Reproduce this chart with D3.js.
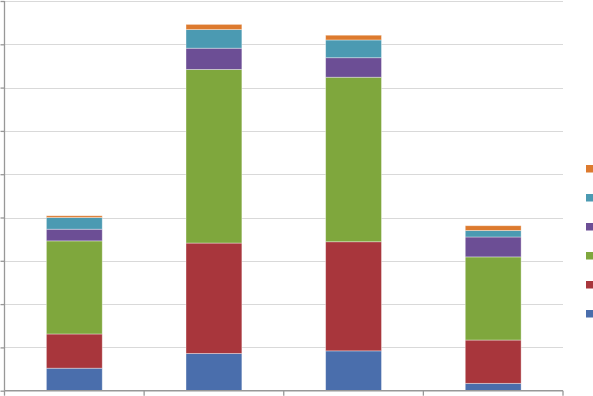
<!DOCTYPE html>
<html>
<head>
    <meta charset="utf-8" />
    <script src="https://d3js.org/d3.v7.min.js"></script>
    <style>
        body { margin: 0; background: #fff; }
        svg { display: block; }
    </style>
</head>
<body>
    <script>
        var categories = ["A", "B", "C", "D"];
        var seriesNames = ["S1", "S2", "S3", "S4", "S5", "S6"];
        var colors = ["#4a6eac", "#a8363c", "#7fa73d", "#6c4e95", "#4b9ab2", "#dd7a2e"];
        // one array per series, one value per category
        var s1 = [5.2, 8.6, 9.2, 1.7];
        var s2 = [7.9, 25.5, 25.2, 10.0];
        var s3 = [21.5, 40.1, 38.0, 19.2];
        var s4 = [2.7, 4.9, 4.5, 4.6];
        var s5 = [2.7, 4.3, 4.1, 1.5];
        var s6 = [0.4, 1.2, 1.1, 1.1];
        var yTicks = [0, 10, 20, 30, 40, 50, 60, 70, 80, 90];

        var width = 593, height = 396;
        // plot edges (note: "top" is reserved on window)
        var plotLeft = 4.5, plotRight = 563, plotTop = 1, plotBottom = 390.7;

        var all = [s1, s2, s3, s4, s5, s6];
        var rows = categories.map(function (c, i) {
            var r = { cat: c };
            seriesNames.forEach(function (s, j) { r[s] = all[j][i]; });
            return r;
        });

        var svg = d3.select("body").append("svg")
            .attr("width", width)
            .attr("height", height);

        var x = d3.scaleBand()
            .domain(categories)
            .range([plotLeft, plotRight])
            .paddingInner(0.6)
            .paddingOuter(0.3);

        var y = d3.scaleLinear()
            .domain([0, 90])
            .range([plotBottom, plotTop]);

        // gridlines
        svg.append("g")
            .selectAll("line")
            .data(yTicks.slice(1))
            .enter().append("line")
            .attr("x1", plotLeft).attr("x2", plotRight)
            .attr("y1", function (d) { return Math.round(y(d)) + 0.5; })
            .attr("y2", function (d) { return Math.round(y(d)) + 0.5; })
            .attr("stroke", "#d9d9d9")
            .attr("stroke-width", 1);

        // stacked bars
        var stack = d3.stack().keys(seriesNames)(rows);
        svg.append("g")
            .selectAll("g")
            .data(stack)
            .enter().append("g")
            .attr("fill", function (d, i) { return colors[i]; })
            .selectAll("rect")
            .data(function (d) { return d; })
            .enter().append("rect")
            .attr("x", function (d) { return x(d.data.cat); })
            .attr("width", x.bandwidth())
            .attr("y", function (d) { return y(d[1]); })
            .attr("height", function (d) { return y(d[0]) - y(d[1]); })
            .attr("stroke", "rgba(255,255,255,0.45)")
            .attr("stroke-width", 0.8);

        // y axis
        var yAxis = d3.axisLeft(y).tickValues(yTicks).tickSize(4).tickFormat("");
        var gy = svg.append("g")
            .attr("transform", "translate(" + plotLeft + ",0)")
            .call(yAxis);
        gy.selectAll("line, path").attr("stroke", "#989898").attr("stroke-width", 1.3);
        gy.select(".domain").attr("d", "M0," + plotTop + "V" + plotBottom);

        // x axis with ticks at category boundaries
        var bounds = d3.range(categories.length + 1).map(function (i) {
            return plotLeft + i * x.step();
        });
        var gx = svg.append("g");
        gx.append("line")
            .attr("x1", plotLeft).attr("x2", plotRight)
            .attr("y1", plotBottom).attr("y2", plotBottom)
            .attr("stroke", "#989898").attr("stroke-width", 1.5);
        gx.selectAll("line.tick")
            .data(bounds)
            .enter().append("line")
            .attr("class", "tick")
            .attr("x1", function (d) { return d; }).attr("x2", function (d) { return d; })
            .attr("y1", plotBottom).attr("y2", plotBottom + 5)
            .attr("stroke", "#989898").attr("stroke-width", 1.3);

        // legend (swatches only, top entry is last series)
        var legend = svg.append("g");
        legend.selectAll("rect")
            .data(seriesNames.slice().reverse())
            .enter().append("rect")
            .attr("x", 586)
            .attr("y", function (d, i) { return 165 + i * 29; })
            .attr("width", 7.5)
            .attr("height", 7.5)
            .attr("fill", function (d) { return colors[seriesNames.indexOf(d)]; });
    </script>
</body>
</html>
